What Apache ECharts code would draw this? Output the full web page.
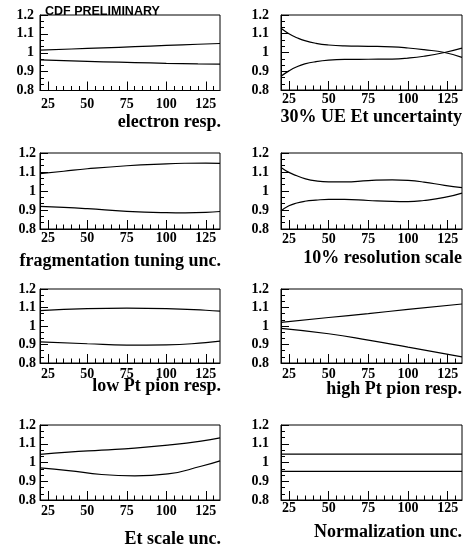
<!DOCTYPE html>
<html>
<head>
<meta charset="utf-8">
<title>Systematic uncertainty bands</title>
<script src="https://cdn.jsdelivr.net/npm/echarts@6/dist/echarts.min.js"></script>
<style>
  html, body { margin: 0; padding: 0; background: #fff; }
  #chart { width: 464px; height: 546px; }
</style>
</head>
<body>
<div id="chart"></div>
<script>
// ---- data: upper and lower band edges vs. Et for each systematic source ----
const panelTitles = [
  'electron resp.', '30% UE Et uncertainty',
  'fragmentation tuning unc.', '10% resolution scale',
  'low Pt pion resp.', 'high Pt pion resp.',
  'Et scale unc.', 'Normalization unc.'
];

const xElectron = [20, 40, 60, 80, 100, 120, 134];
const upElectron = [1.014, 1.020, 1.026, 1.032, 1.039, 1.045, 1.049];
const loElectron = [0.962, 0.957, 0.952, 0.948, 0.944, 0.941, 0.940];

const xUE = [20, 25, 30, 35, 42, 50, 60, 75, 90, 100, 110, 123, 134];
const upUE = [1.129, 1.100, 1.079, 1.063, 1.049, 1.040, 1.035, 1.033, 1.030, 1.024, 1.015, 1.000, 0.974];
const loUE = [0.873, 0.902, 0.924, 0.939, 0.951, 0.959, 0.963, 0.964, 0.965, 0.970, 0.980, 1.000, 1.023];

const xFrag = [20, 35, 50, 75, 100, 112, 125, 134];
const upFrag = [1.091, 1.104, 1.117, 1.133, 1.143, 1.146, 1.147, 1.145];
const loFrag = [0.919, 0.914, 0.907, 0.893, 0.886, 0.885, 0.887, 0.892];

const xRes = [20, 25, 30, 35, 42, 50, 60, 75, 90, 100, 110, 123, 134];
const upRes = [1.124, 1.098, 1.080, 1.065, 1.053, 1.048, 1.048, 1.055, 1.059, 1.056, 1.047, 1.030, 1.018];
const loRes = [0.895, 0.922, 0.937, 0.946, 0.952, 0.956, 0.956, 0.950, 0.945, 0.944, 0.950, 0.966, 0.989];

const xLowPt = [20, 50, 75, 100, 125, 134];
const upLowPt = [1.083, 1.094, 1.097, 1.094, 1.085, 1.080];
const loLowPt = [0.914, 0.904, 0.897, 0.898, 0.910, 0.918];

const xHighPt = [20, 50, 75, 100, 134];
const upHighPt = [1.020, 1.046, 1.067, 1.090, 1.119];
const loHighPt = [0.987, 0.958, 0.924, 0.886, 0.833];

const xEtScale = [20, 38, 59, 80, 101, 122, 134];
const upEtScale = [1.043, 1.055, 1.066, 1.077, 1.093, 1.114, 1.131];
const loEtScale = [0.971, 0.957, 0.936, 0.929, 0.939, 0.980, 1.009];

const xNorm = [20, 134];
const upNorm = [1.045, 1.045];
const loNorm = [0.953, 0.953];

const xMajorTicks = [25, 50, 75, 100, 125];
const xMinorTicks = [30, 35, 40, 45, 55, 60, 65, 70, 80, 85, 90, 95, 105, 110, 115, 120, 130];
const xRange = [20, 134];
const yRange = [0.8, 1.2];
const yStep = 0.1;

const bands = [
  [xElectron, upElectron, loElectron],
  [xUE, upUE, loUE],
  [xFrag, upFrag, loFrag],
  [xRes, upRes, loRes],
  [xLowPt, upLowPt, loLowPt],
  [xHighPt, upHighPt, loHighPt],
  [xEtScale, upEtScale, loEtScale],
  [xNorm, upNorm, loNorm]
];

// ---- layout of the 4x2 pads ----
const pads = [
  { left: 40,  top: 15,  width: 180, height: 75.5, xMargin: 7,   yMargin: 6,  titleRight: 221, titleMid: 123 },
  { left: 281, top: 15,  width: 181, height: 75,   xMargin: 2,   yMargin: 12, titleRight: 462, titleMid: 118 },
  { left: 40,  top: 153, width: 180, height: 76,   xMargin: 2.5, yMargin: 4,  titleRight: 221, titleMid: 262 },
  { left: 281, top: 153, width: 181, height: 76,   xMargin: 3,   yMargin: 12, titleRight: 462, titleMid: 259 },
  { left: 40,  top: 289, width: 180, height: 74,   xMargin: 4.5, yMargin: 4,  titleRight: 221, titleMid: 387 },
  { left: 281, top: 289, width: 181, height: 74,   xMargin: 4.5, yMargin: 12, titleRight: 462, titleMid: 390 },
  { left: 40,  top: 425, width: 180, height: 75,   xMargin: 4.5, yMargin: 4,  titleRight: 221, titleMid: 540 },
  { left: 281, top: 425, width: 181, height: 75,   xMargin: 1,   yMargin: 12, titleRight: 462, titleMid: 533 }
];

const serif = '"Liberation Serif", "Times New Roman", serif';
const ink = '#000';
const labelFont = { fontFamily: serif, fontWeight: 'bold', fontSize: 14, color: ink };

const grid = [], xAxis = [], yAxis = [], series = [], title = [];

pads.forEach((p, i) => {
  grid.push({
    left: p.left, top: p.top, width: p.width, height: p.height,
    show: true, borderColor: ink, borderWidth: 1, backgroundColor: 'transparent'
  });
  // major ticks + labels
  xAxis.push({
    type: 'value', gridIndex: i, min: xRange[0], max: xRange[1],
    axisLine: { show: true, lineStyle: { color: ink, width: 1 } },
    axisTick: { show: true, inside: true, length: 9, customValues: xMajorTicks, lineStyle: { color: ink, width: 1 } },
    axisLabel: Object.assign({ show: true, margin: p.xMargin, customValues: xMajorTicks }, labelFont),
    splitLine: { show: false }
  });
  // minor ticks
  xAxis.push({
    type: 'value', gridIndex: i, min: xRange[0], max: xRange[1], position: 'bottom',
    axisLine: { show: false },
    axisTick: { show: true, inside: true, length: 4.5, customValues: xMinorTicks, lineStyle: { color: ink, width: 1 } },
    axisLabel: { show: false },
    splitLine: { show: false }
  });
  yAxis.push({
    type: 'value', gridIndex: i, min: yRange[0], max: yRange[1], interval: yStep,
    axisLine: { show: true, lineStyle: { color: ink, width: 1 } },
    axisTick: { show: true, inside: true, length: 8, lineStyle: { color: ink, width: 1 } },
    minorTick: { show: true, splitNumber: 3, length: 4, lineStyle: { color: ink, width: 1 } },
    axisLabel: Object.assign({ show: true, margin: p.yMargin }, labelFont),
    splitLine: { show: false }
  });

  const [xs, up, lo] = bands[i];
  [up, lo].forEach(edge => {
    series.push({
      type: 'line', xAxisIndex: 2 * i, yAxisIndex: i,
      data: xs.map((x, k) => [x, edge[k]]),
      showSymbol: false, smooth: 0.5,
      lineStyle: { color: ink, width: 1.2 },
      silent: true
    });
  });

  title.push({
    text: panelTitles[i],
    right: 464 - p.titleRight,
    top: p.titleMid - 10,
    padding: 0,
    textStyle: { fontFamily: serif, fontWeight: 'bold', fontSize: 18, color: ink }
  });
});

title.push({
  text: 'CDF PRELIMINARY',
  left: 45, top: 5, padding: 0,
  textStyle: { fontFamily: '"Liberation Sans", Arial, sans-serif', fontWeight: 'bold', fontSize: 12.5, color: ink }
});

const chart = echarts.init(document.getElementById('chart'), null, { renderer: 'canvas' });
chart.setOption({
  animation: false,
  backgroundColor: '#fff',
  title, grid, xAxis, yAxis, series
});
</script>
</body>
</html>
